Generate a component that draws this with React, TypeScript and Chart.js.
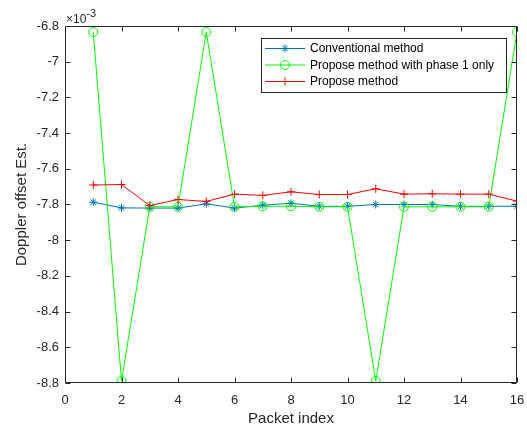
import React, { useEffect, useRef } from "react";
import { Chart, registerables } from "chart.js";

Chart.register(...registerables);

const packetIndex = [1, 2, 3, 4, 5, 6, 7, 8, 9, 10, 11, 12, 13, 14, 15, 16];
const conventional = [-7.787, -7.819, -7.82, -7.82, -7.796, -7.82, -7.804, -7.793, -7.81, -7.81, -7.8, -7.8, -7.8, -7.81, -7.81, -7.81];
const phase1Only = [-6.834, -8.789, -7.813, -7.813, -6.834, -7.813, -7.81, -7.81, -7.813, -7.813, -8.789, -7.813, -7.813, -7.813, -7.813, -6.834];
const proposed = [-7.691, -7.688, -7.806, -7.772, -7.783, -7.742, -7.749, -7.729, -7.744, -7.744, -7.712, -7.742, -7.74, -7.742, -7.742, -7.781];
const seriesLabels = ["Conventional method", "Propose method with phase 1 only", "Propose method"];
const seriesColors = ["rgb(0,114,189)", "rgb(0,255,0)", "rgb(255,0,0)"];
const seriesMarkers = ["star", "circle", "cross"];
const xLabel = "Packet index";
const yLabel = "Doppler offset Est.";
const exponentBase = "\u00d710";
const exponent = "-3";

const FONT = "'Liberation Sans', Arial, Helvetica, sans-serif";
const AXIS = "#262626";

function drawMarker(ctx: CanvasRenderingContext2D, style: string, x: number, y: number, r: number, color: string) {
  ctx.save();
  ctx.strokeStyle = color;
  ctx.lineWidth = 1;
  ctx.beginPath();
  if (style === "circle") {
    ctx.arc(x, y, r, 0, Math.PI * 2);
  } else if (style === "cross") {
    ctx.moveTo(x - r, y); ctx.lineTo(x + r, y);
    ctx.moveTo(x, y - r); ctx.lineTo(x, y + r);
  } else {
    const d = r * Math.SQRT1_2;
    ctx.moveTo(x - r, y); ctx.lineTo(x + r, y);
    ctx.moveTo(x, y - r); ctx.lineTo(x, y + r);
    ctx.moveTo(x - d, y - d); ctx.lineTo(x + d, y + d);
    ctx.moveTo(x - d, y + d); ctx.lineTo(x + d, y - d);
  }
  ctx.stroke();
  ctx.restore();
}

const matlabFrame = {
  id: "matlabFrame",
  afterDraw(chart: any) {
    const { ctx, chartArea } = chart;
    const { left, right, top, bottom } = chartArea;
    const xs = chart.scales.x;
    const ys = chart.scales.y;
    ctx.save();
    ctx.strokeStyle = AXIS;
    ctx.lineWidth = 1;
    const L = Math.round(left) + 0.5;
    const R = Math.round(right) - 0.5;
    const T = Math.round(top) + 0.5;
    const B = Math.round(bottom) - 0.5;
    ctx.beginPath();
    ctx.rect(L, T, R - L, B - T);
    const tl = 5;
    xs.ticks.forEach((t: any) => {
      const px = Math.round(xs.getPixelForValue(t.value)) + 0.5;
      ctx.moveTo(px, B); ctx.lineTo(px, B - tl);
      ctx.moveTo(px, T); ctx.lineTo(px, T + tl);
    });
    ys.ticks.forEach((t: any) => {
      const py = Math.round(ys.getPixelForValue(t.value)) + 0.5;
      ctx.moveTo(L, py); ctx.lineTo(L + tl, py);
      ctx.moveTo(R, py); ctx.lineTo(R - tl, py);
    });
    ctx.stroke();

    // exponent label
    ctx.fillStyle = AXIS;
    ctx.textBaseline = "alphabetic";
    ctx.textAlign = "left";
    ctx.font = `12px ${FONT}`;
    ctx.fillText(exponentBase, 66, 22.5);
    const w = ctx.measureText(exponentBase).width;
    ctx.font = `11px ${FONT}`;
    ctx.fillText(exponent, 66 + w, 16.5);

    // legend
    const bx = 261, by = 38, bw = 245, bh = 54;
    ctx.fillStyle = "#ffffff";
    ctx.fillRect(bx, by, bw, bh);
    ctx.strokeStyle = AXIS;
    ctx.strokeRect(bx + 0.5, by + 0.5, bw, bh);
    const rows = [48.5, 65, 81.5];
    ctx.font = `12px ${FONT}`;
    ctx.textBaseline = "middle";
    chart.data.datasets.forEach((ds: any, i: number) => {
      const y = rows[i];
      ctx.strokeStyle = seriesColors[i];
      ctx.lineWidth = 1;
      ctx.beginPath();
      ctx.moveTo(265, y); ctx.lineTo(305, y);
      ctx.stroke();
      drawMarker(ctx, seriesMarkers[i], 285, y, i === 1 ? 4.5 : 4, seriesColors[i]);
      ctx.fillStyle = "#000000";
      ctx.fillText(ds.label, 310, y + 0.5);
    });
    ctx.restore();
  },
};

export default function App() {
  const ref = useRef<HTMLCanvasElement | null>(null);
  useEffect(() => {
    if (!ref.current) return;
    const seriesValues = [conventional, phase1Only, proposed];
    const chart = new Chart(ref.current, {
      type: "line",
      data: {
        datasets: seriesValues.map((vals, i) => ({
          label: seriesLabels[i],
          data: packetIndex.map((x, j) => ({ x, y: vals[j] })),
          borderColor: seriesColors[i],
          backgroundColor: "rgba(0,0,0,0)",
          borderWidth: 1,
          pointStyle: seriesMarkers[i] as any,
          pointRadius: i === 1 ? 4.5 : 4,
          pointBorderWidth: 1,
          pointBorderColor: seriesColors[i],
          pointBackgroundColor: "rgba(0,0,0,0)",
          tension: 0,
          fill: false,
          order: 2 - i,
        })),
      },
      options: {
        animation: false,
        responsive: false,
        maintainAspectRatio: false,
        layout: { padding: { left: 0, top: 26, right: 10, bottom: 0 } },
        plugins: { legend: { display: false }, tooltip: { enabled: false } },
        scales: {
          x: {
            type: "linear",
            min: 0,
            max: 16,
            grid: { display: false, drawTicks: false },
            border: { display: false },
            ticks: { stepSize: 2, color: AXIS, padding: 10, font: { family: FONT, size: 13 }, maxRotation: 0 },
            title: { display: true, text: xLabel, color: AXIS, font: { family: FONT, size: 15 }, padding: { top: 0, bottom: 0 } },
            afterFit: (s: any) => { s.height = 45; s.paddingLeft = 0; s.paddingRight = 0; },
          },
          y: {
            type: "linear",
            min: -8.8,
            max: -6.8,
            grid: { display: false, drawTicks: false },
            border: { display: false },
            ticks: {
              stepSize: 0.2,
              color: AXIS,
              padding: 6,
              font: { family: FONT, size: 13 },
              callback: (v: any) => String(Number(Number(v).toFixed(1))),
            },
            title: { display: true, text: yLabel, color: AXIS, font: { family: FONT, size: 15 }, padding: { top: 13, bottom: 0 } },
            afterFit: (s: any) => { s.width = 65; s.paddingTop = 0; s.paddingBottom = 0; },
          },
        },
      },
      plugins: [matlabFrame],
    });
    return () => chart.destroy();
  }, []);
  return (
    <div style={{ position: "absolute", left: 0, top: 0, width: 527, height: 428, background: "#fff" }}>
      <canvas ref={ref} width={527} height={428} style={{ display: "block" }} />
    </div>
  );
}
